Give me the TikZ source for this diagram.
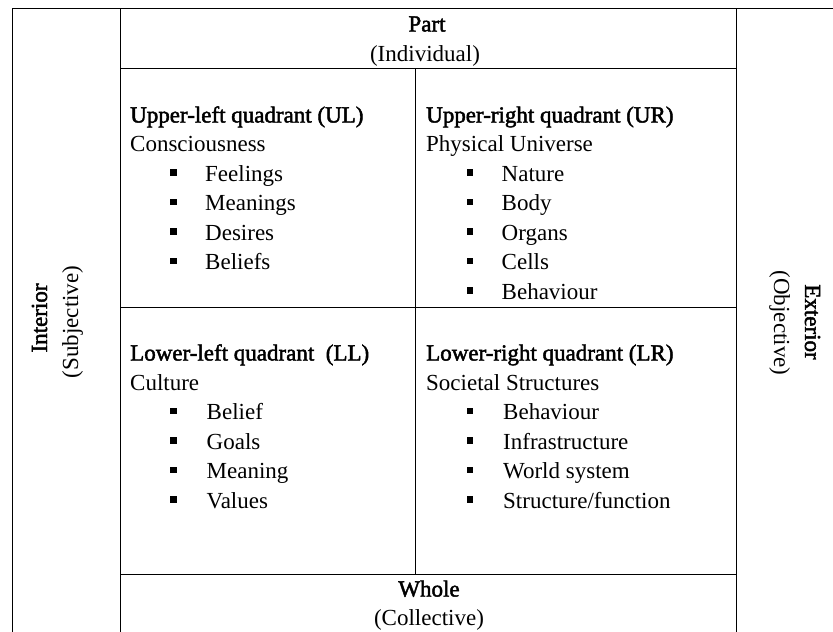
\documentclass[tikz,border=0pt]{standalone}
\usepackage{fontspec}
\setmainfont{Liberation Serif}
\newfontfamily\boldish{Liberation Serif}[FakeBold=2]
\begin{document}
\begin{tikzpicture}[x=1pt,y=-1pt,
  frame/.style={draw=black,line width=1pt},
  txt/.style={inner sep=0pt,anchor=base west,font=\fontsize{23}{28}\selectfont},
  head/.style={inner sep=0pt,anchor=base west,font=\fontsize{23}{28}\selectfont\boldish},
  ctr/.style={inner sep=0pt,anchor=base,font=\fontsize{23}{28}\selectfont},
  ctrb/.style={inner sep=0pt,anchor=base,font=\fontsize{23}{28}\selectfont\boldish},
  bul/.style={fill=black,draw=none,minimum size=6.5pt,inner sep=0pt}]
\useasboundingbox (0,0) rectangle (833,632);
% grid lines
\draw[frame] (12,632) -- (12,8) -- (833,8);
\draw[frame] (120,8) -- (120,632);
\draw[frame] (736,8) -- (736,632);
\draw[frame] (120,68) -- (736,68);
\draw[frame] (120,307) -- (736,307);
\draw[frame] (120,574) -- (736,574);
\draw[frame] (415,68) -- (415,574);
% top / bottom labels
\node[ctrb] (part) at (427,31.5) {Part};
\node[ctr] (indiv) at (425,61) {(Individual)};
\node[ctrb] (whole) at (429,596.5) {Whole};
\node[ctr] (coll) at (429,625) {(Collective)};
% side labels
\node[ctrb,rotate=90] (interior) at (47,318) {Interior};
\node[ctr,rotate=90] (subj) at (78,322) {(Subjective)};
\node[ctrb,rotate=-90] (exterior) at (805,322) {Exterior};
\node[ctr,rotate=-90] (obj) at (774,323) {(Objective)};
% UL
\node[head] (ulh) at (130,122.5) {Upper-left quadrant (UL)};
\node[txt] (uls) at (130,151.5) {Consciousness};
\foreach \t [count=\i] in {Feelings,Meanings,Desires,Beliefs}{
  \node[bul] (ulb\i) at (173.5,{181-8.5+29.5*(\i-1)}) {};
  \node[txt] (uli\i) at (205,{181+29.5*(\i-1)}) {\t};
}
% UR
\node[head] (urh) at (426,122.5) {Upper-right quadrant (UR)};
\node[txt] (urs) at (426,151.5) {Physical Universe};
\foreach \t [count=\i] in {Nature,Body,Organs,Cells,Behaviour}{
  \node[bul] (urb\i) at (470,{181-8.5+29.5*(\i-1)}) {};
  \node[txt] (uri\i) at (501.5,{181+29.5*(\i-1)}) {\t};
}
% LL
\node[head] (llh) at (130,360.5) {Lower-left quadrant~~(LL)};
\node[txt] (lls) at (130,390) {Culture};
\foreach \t [count=\i] in {Belief,Goals,Meaning,Values}{
  \node[bul] (llb\i) at (173.5,{419.5-8.5+29.5*(\i-1)}) {};
  \node[txt] (lli\i) at (206.5,{419.5+29.5*(\i-1)}) {\t};
}
% LR
\node[head] (lrh) at (426,360.5) {Lower-right quadrant (LR)};
\node[txt] (lrs) at (426,390) {Societal Structures};
\foreach \t [count=\i] in {Behaviour,Infrastructure,World system,Structure/function}{
  \node[bul] (lrb\i) at (470,{419.5-8.5+29.5*(\i-1)}) {};
  \node[txt] (lri\i) at (503,{419.5+29.5*(\i-1)}) {\t};
}
\end{tikzpicture}
\end{document}
